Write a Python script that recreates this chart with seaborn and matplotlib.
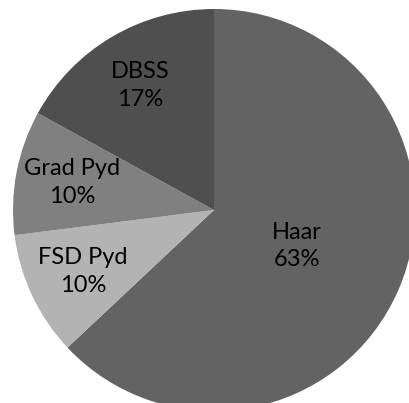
import numpy as np
import matplotlib
matplotlib.use("Agg")
import matplotlib.pyplot as plt
import seaborn as sns

categories = ["Haar", "FSD Pyd", "Grad Pyd", "DBSS"]
values = [63, 10, 10, 17]
colors = ["#636363", "#b3b3b3", "#808080", "#4f4f4f"]
label_dist = [0.45, 0.72, 0.72, 0.72]

sns.set_style("white")
plt.rcParams["font.family"] = ["Lato", "DejaVu Sans"]

fig = plt.figure(figsize=(4.09, 4.03), dpi=100)
W, H = 409, 403
cx, cy, r = 214, 210, 201
ax = fig.add_axes([(cx - r) / W, (H - cy - r) / H, 2 * r / W, 2 * r / H])

wedges, _ = ax.pie(values, colors=colors, startangle=90, counterclock=False,
                   radius=1, wedgeprops=dict(linewidth=0))
ax.set_xlim(-1, 1)
ax.set_ylim(-1, 1)
ax.set_aspect("equal")
ax.axis("off")

for w, cat, v, d in zip(wedges, categories, values, label_dist):
    ang = np.deg2rad((w.theta1 + w.theta2) / 2)
    ax.text(d * np.cos(ang), d * np.sin(ang), f"{cat}\n{v}%",
            ha="center", va="center", fontsize=17, color="#000000",
            linespacing=1.4)

fig.savefig("out.png", dpi=100)
